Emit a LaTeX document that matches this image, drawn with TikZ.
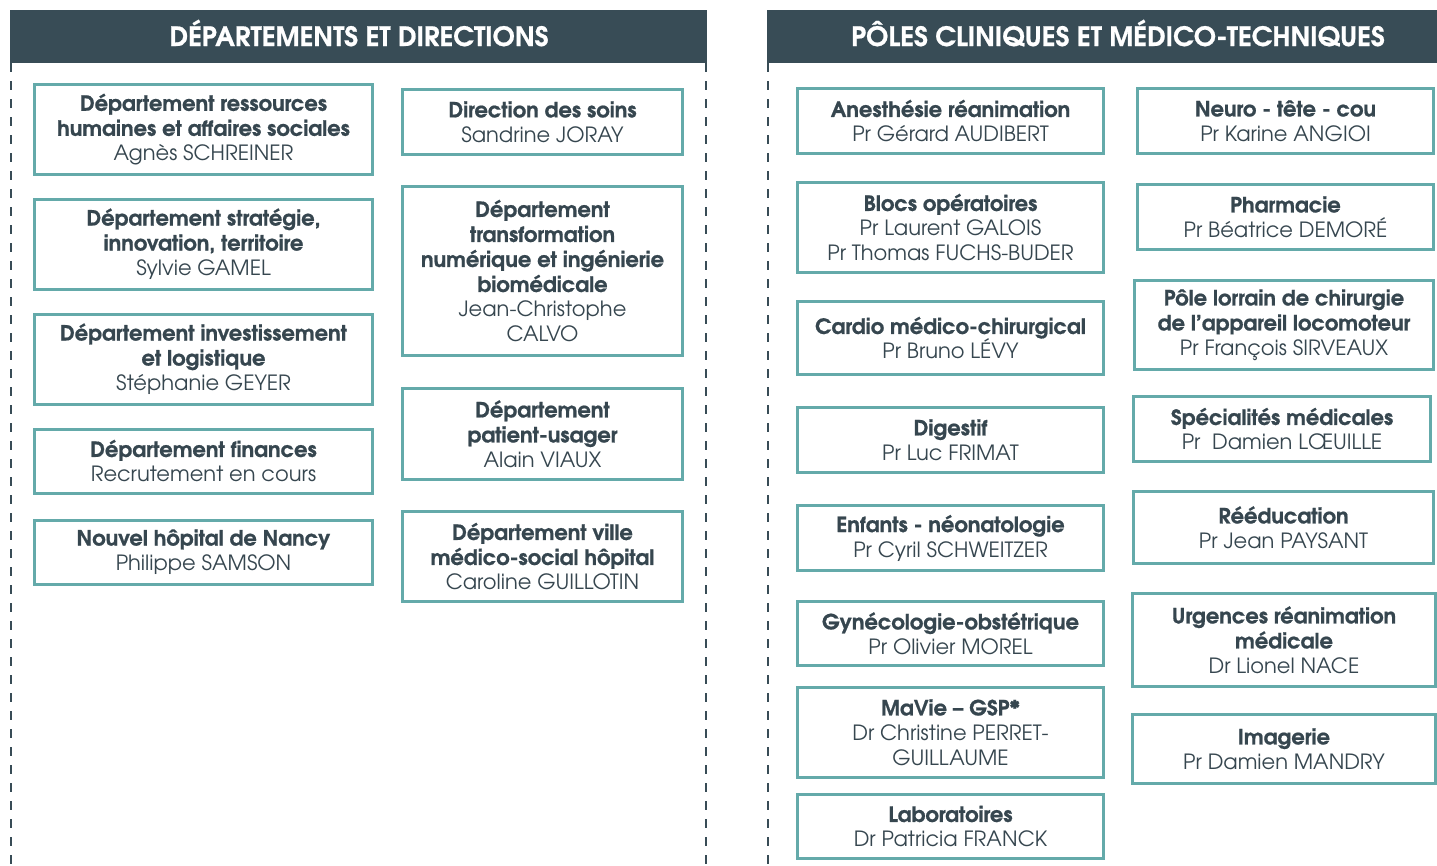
\documentclass[tikz,border=0pt]{standalone}
\usepackage{fontspec}
\setmainfont{TeX Gyre Adventor}[BoldFeatures={FakeBold=0.8}]
\definecolor{hdr}{HTML}{384C56}
\definecolor{teal}{HTML}{64AAAA}
\definecolor{txt}{HTML}{36464F}
\tikzset{
  box/.style={draw=teal, line width=3pt, fill=white, rectangle, align=center, inner sep=0pt,
    text=txt, font=\fontsize{21}{25}\selectfont},
  header/.style={fill=hdr, rectangle, inner sep=0pt},
  headtext/.style={text=white, inner sep=0pt, font=\bfseries\fontsize{26.6}{30}\selectfont},
  dashline/.style={draw=hdr, line width=2.5pt, dash pattern=on 9pt off 9pt}
}
\begin{document}
\begin{tikzpicture}[x=1pt,y=-1pt]
\useasboundingbox (0,0) rectangle (1437,865);
% headers
\node[header, minimum width=697pt, minimum height=53pt] (h1) at (358.5,36.5) {};
\node[header, minimum width=670pt, minimum height=53pt] (h2) at (1102,36.5) {};
\node[headtext, anchor=base] (h1t) at (359,46) {DÉPARTEMENTS ET DIRECTIONS};
\node[headtext, anchor=base] (h2t) at (1118,46) {PÔLES CLINIQUES ET MÉDICO-TECHNIQUES};
% dashed separators
\draw[dashline] (11,63) -- (11,865);
\draw[dashline] (706,63) -- (706,865);
\draw[dashline] (768,63) -- (768,865);
% left column
\node[box, minimum width=338pt, minimum height=90pt] (l1) at (203.5,129.5) {\textbf{Département ressources}\\\textbf{humaines et affaires sociales}\\Agnès SCHREINER};
\node[box, minimum width=338pt, minimum height=90pt] (l2) at (203.5,244) {\textbf{Département stratégie,}\\\textbf{innovation, territoire}\\Sylvie GAMEL};
\node[box, minimum width=338pt, minimum height=90pt] (l3) at (203.5,359) {\textbf{Département investissement}\\\textbf{et logistique}\\Stéphanie GEYER};
\node[box, minimum width=338pt, minimum height=64pt] (l4) at (203.5,461) {\textbf{Département finances}\\Recrutement en cours};
\node[box, minimum width=338pt, minimum height=64pt] (l5) at (203.5,552) {\textbf{Nouvel hôpital de Nancy}\\Philippe SAMSON};
% middle column
\node[box, minimum width=280pt, minimum height=65pt] (m1) at (542.5,122) {\textbf{Direction des soins}\\Sandrine JORAY};
\node[box, minimum width=280pt, minimum height=169pt] (m2) at (542.5,271) {\textbf{Département}\\\textbf{transformation}\\\textbf{numérique et ingénierie}\\\textbf{biomédicale}\\Jean-Christophe\\CALVO};
\node[box, minimum width=280pt, minimum height=91pt] (m3) at (542.5,434) {\textbf{Département}\\\textbf{patient-usager}\\Alain VIAUX};
\node[box, minimum width=280pt, minimum height=90pt] (m4) at (542.5,556.5) {\textbf{Département ville}\\\textbf{médico-social hôpital}\\Caroline GUILLOTIN};
% right column 1
\node[box, minimum width=306pt, minimum height=65pt] (r1) at (950.5,121) {\textbf{Anesthésie réanimation}\\Pr Gérard AUDIBERT};
\node[box, minimum width=306pt, minimum height=90pt] (r2) at (950.5,227.5) {\textbf{Blocs opératoires}\\Pr Laurent GALOIS\\Pr Thomas FUCHS-BUDER};
\node[box, minimum width=306pt, minimum height=73pt] (r3) at (950.5,338) {\textbf{Cardio médico-chirurgical}\\Pr Bruno LÉVY};
\node[box, minimum width=306pt, minimum height=65pt] (r4) at (950.5,440) {\textbf{Digestif}\\Pr Luc FRIMAT};
\node[box, minimum width=306pt, minimum height=65pt] (r5) at (950.5,538) {\textbf{Enfants - néonatologie}\\Pr Cyril SCHWEITZER};
\node[box, minimum width=306pt, minimum height=64pt] (r6) at (950.5,633.5) {\textbf{Gynécologie-obstétrique}\\Pr Olivier MOREL};
\node[box, minimum width=306pt, minimum height=90pt] (r7) at (950.5,732.5) {\textbf{MaVie – GSP*}\\Dr Christine PERRET-\\GUILLAUME};
\node[box, minimum width=306pt, minimum height=64pt] (r8) at (950.5,826.5) {\textbf{Laboratoires}\\Dr Patricia FRANCK};
% right column 2
\node[box, minimum width=296pt, minimum height=65pt] (s1) at (1285.5,121) {\textbf{Neuro - tête - cou}\\Pr Karine ANGIOI};
\node[box, minimum width=296pt, minimum height=65pt] (s2) at (1285.5,217) {\textbf{Pharmacie}\\Pr Béatrice DEMORÉ};
\node[box, minimum width=299pt, minimum height=89pt] (s3) at (1284,325) {\textbf{Pôle lorrain de chirurgie}\\\textbf{de l’appareil locomoteur}\\Pr François SIRVEAUX};
\node[box, minimum width=297pt, minimum height=65pt] (s4) at (1282,429) {\textbf{Spécialités médicales}\\Pr~ Damien LŒUILLE};
\node[box, minimum width=300pt, minimum height=72pt] (s5) at (1283.5,527.5) {\textbf{Rééducation}\\Pr Jean PAYSANT};
\node[box, minimum width=303pt, minimum height=93pt] (s6) at (1284,640) {\textbf{Urgences réanimation}\\\textbf{médicale}\\Dr Lionel NACE};
\node[box, minimum width=303pt, minimum height=69pt] (s7) at (1284,749) {\textbf{Imagerie}\\Pr Damien MANDRY};
\end{tikzpicture}
\end{document}
